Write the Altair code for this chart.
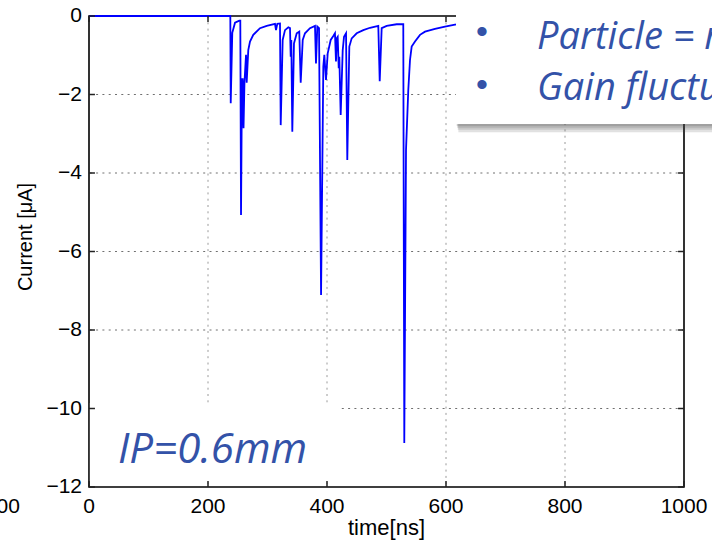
import altair as alt
import pandas as pd

# ---- signal: time [ns] and current [uA] ----
t_ns = [0, 237.5, 238.2, 240.8, 245.4, 252.6, 254.3, 255.5, 257.1, 258.3, 259.7, 261.3,
        263.9, 265.0, 267.7, 270.6, 276.1, 287.4, 298.7, 312.6, 314.3, 316.5, 321.0,
        322.2, 325.5, 329.4, 335.0, 337.8, 339.0, 340.0, 341.7, 344.5, 349.1, 353.4,
        355.8, 359.2, 363.0, 371.4, 379.8, 381.5, 383.7, 386.6, 390.0, 393.8, 395.5,
        398.3, 401.2, 406.2, 410.6, 413.4, 415.1, 416.3, 418.0, 419.7, 420.7, 423.0,
        426.4, 428.6, 432.0, 434.1, 437.5, 441.5, 449.9, 461.0, 472.3, 486.2, 488.6,
        491.9, 500.3, 517.1, 528.2, 529.9, 532.8, 536.6, 539.5, 542.3, 547.9, 556.3,
        564.7, 581.5, 598.3, 615.1, 640.0, 724.0, 859.0, 1000.0]
current_uA = [0, 0, -2.22, -0.43, -0.17, -0.12, -0.12, -5.07, -1.61, -1.61, -2.86, -1.68,
              -0.99, -1.70, -0.87, -0.65, -0.48, -0.31, -0.25, -0.20, -0.36, -0.20, -0.19,
              -2.78, -0.61, -0.36, -0.29, -0.31, -1.04, -0.61, -2.95, -0.70, -0.44, -0.40,
              -1.70, -0.61, -0.44, -0.31, -0.25, -1.21, -0.27, -0.31, -7.11, -1.29, -0.99,
              -1.63, -0.95, -0.61, -0.51, -0.44, -1.16, -0.57, -0.53, -1.33, -1.04, -2.52,
              -0.87, -0.53, -0.44, -3.67, -0.78, -0.57, -0.44, -0.36, -0.30, -0.25, -1.66,
              -0.31, -0.25, -0.21, -0.21, -10.88, -3.41, -1.89, -1.12, -0.78, -0.65, -0.48,
              -0.40, -0.33, -0.27, -0.22, -0.18, -0.10, -0.05, -0.03]

x_ticks = [0, 200, 400, 600, 800, 1000]
y_ticks = [-12, -10, -8, -6, -4, -2, 0]
x_grid = [200, 400, 600, 800]
y_grid = [-10, -8, -6, -4, -2]
x_title = "time[ns]"
y_title = "Current [μA]"

bullet_lines = ["Particle = muon", "Gain fluctuations"]
ip_label = "IP=0.6mm"

W, H = 595, 471
TXT_BLUE = "#3352a8"
AXFONT = "Liberation Sans"
SLIDEFONT = "Open Sans"

xs = alt.Scale(domain=[0, 1000], nice=False, zero=False)
ys = alt.Scale(domain=[-12, 0], nice=False, zero=False)


def X(f):
    return alt.X(f, scale=xs, axis=None)


def Y(f):
    return alt.Y(f, scale=ys, axis=None)


sig = pd.DataFrame({"t": t_ns, "I": current_uA})

# grid
hgrid = alt.Chart(pd.DataFrame({"y": y_grid})).mark_rule(
    color="#707070", strokeDash=[2, 4.3], strokeWidth=1
).encode(y=Y("y:Q"))
vgrid = alt.Chart(pd.DataFrame({"x": x_grid})).mark_rule(
    color="#9a9a9a", strokeDash=[2, 4.3], strokeWidth=1
).encode(x=X("x:Q"))

# white box behind the "IP=0.6mm" label
ipbox = alt.Chart(pd.DataFrame({"x": [1.5], "x2": [422], "y": [-9.86], "y2": [-11.88]})).mark_rect(
    color="white"
).encode(x=X("x:Q"), x2="x2", y=Y("y:Q"), y2="y2")

line = alt.Chart(sig).mark_line(color="#0000ff", strokeWidth=1.8).encode(x=X("t:Q"), y=Y("I:Q"))

# inward ticks
tick_len_x = 10.0
tick_len_y = 0.153
lt = pd.DataFrame({"y": y_ticks, "x": [0] * len(y_ticks), "x2": [tick_len_x] * len(y_ticks)})
rt = pd.DataFrame({"y": y_ticks, "x": [1000 - tick_len_x] * len(y_ticks), "x2": [1000] * len(y_ticks)})
bt = pd.DataFrame({"x": x_ticks, "y": [-12] * len(x_ticks), "y2": [-12 + tick_len_y] * len(x_ticks)})
tt = pd.DataFrame({"x": x_ticks, "y": [0] * len(x_ticks), "y2": [-tick_len_y] * len(x_ticks)})
ytk = alt.Chart(pd.concat([lt, rt])).mark_rule(color="#222", strokeWidth=1.5).encode(
    x=X("x:Q"), x2="x2", y=Y("y:Q"))
xtk = alt.Chart(pd.concat([bt, tt])).mark_rule(color="#222", strokeWidth=1.5).encode(
    x=X("x:Q"), y=Y("y:Q"), y2="y2")

# tick labels and axis titles
def fmt(v):
    return str(v).replace("-", "\u2212")


xlab = alt.Chart(pd.DataFrame({"x": x_ticks, "y": [-12] * len(x_ticks),
                               "s": [fmt(v) for v in x_ticks]})).mark_text(
    font=AXFONT, fontSize=21, color="black", align="center", baseline="alphabetic", dy=26
).encode(x=X("x:Q"), y=Y("y:Q"), text="s:N")
ylab = alt.Chart(pd.DataFrame({"x": [0] * len(y_ticks), "y": y_ticks,
                               "s": [fmt(v) for v in y_ticks]})).mark_text(
    font=AXFONT, fontSize=21, color="black", align="right", baseline="middle", dx=-7
).encode(x=X("x:Q"), y=Y("y:Q"), text="s:N")
xtit = alt.Chart(pd.DataFrame({"x": [500], "y": [-12], "s": [x_title]})).mark_text(
    font=AXFONT, fontSize=22, color="black", align="center", baseline="alphabetic", dy=48
).encode(x=X("x:Q"), y=Y("y:Q"), text="s:N")
ytit = alt.Chart(pd.DataFrame({"x": [-105.9], "y": [-5.63], "s": [y_title]})).mark_text(
    font=AXFONT, fontSize=20, color="black", align="center", baseline="middle", angle=270
).encode(x=X("x:Q"), y=Y("y:Q"), text="s:N")

iptext = alt.Chart(pd.DataFrame({"x": [48.7], "y": [-11.39], "s": [ip_label]})).mark_text(
    font=SLIDEFONT, fontStyle="italic", fontSize=42, color=TXT_BLUE, align="left", baseline="alphabetic"
).encode(x=X("x:Q"), y=Y("y:Q"), text="s:N")

# top-right overlay box with shadow
bx0, bx1, by0, by1 = 616.8, 1100, 0.6, -2.75
sh = pd.DataFrame({"x": [bx0 + 1, bx0 + 2, bx0 + 3, bx0 + 4],
                   "x2": [bx1] * 4, "y": [by0] * 4,
                   "y2": [by1 - 0.05, by1 - 0.1, by1 - 0.15, by1 - 0.21]})
shadow = alt.Chart(sh).mark_rect(color="#444", opacity=0.16).encode(
    x=X("x:Q"), x2="x2", y=Y("y:Q"), y2="y2")
topbox = alt.Chart(pd.DataFrame({"x": [bx0], "x2": [bx1], "y": [by0], "y2": [by1]})).mark_rect(
    color="white").encode(x=X("x:Q"), x2="x2", y=Y("y:Q"), y2="y2")
bul = alt.Chart(pd.DataFrame({"x": [660.5, 660.5], "y": [-0.43, -1.78], "s": ["•", "•"]})).mark_text(
    font=AXFONT, fontSize=34, color=TXT_BLUE, align="center", baseline="middle"
).encode(x=X("x:Q"), y=Y("y:Q"), text="s:N")
btxt = alt.Chart(pd.DataFrame({"x": [753, 753], "y": [-0.84, -2.14], "s": bullet_lines})).mark_text(
    font=SLIDEFONT, fontStyle="italic", fontSize=38, color=TXT_BLUE, align="left", baseline="alphabetic"
).encode(x=X("x:Q"), y=Y("y:Q"), text="s:N")

# fragment of a neighbouring chart's tick label at the far left
frag = alt.Chart(pd.DataFrame({"x": [-116], "y": [-12], "s": ["1000"]})).mark_text(
    font=AXFONT, fontSize=21, color="black", align="right", baseline="alphabetic", dy=26
).encode(x=X("x:Q"), y=Y("y:Q"), text="s:N")

chart = alt.layer(hgrid, vgrid, ipbox, line, ytk, xtk, xlab, ylab, xtit, ytit, iptext,
                  shadow, topbox, bul, btxt, frag).properties(
    width=W, height=H,
    autosize=alt.AutoSizeParams(type="none"),
    padding={"left": 89, "top": 16, "right": 28, "bottom": 53},
    background="white",
).configure_view(stroke="#000", strokeWidth=1.6)

chart.save("out.html", embed_options={"renderer": "svg", "actions": False})
